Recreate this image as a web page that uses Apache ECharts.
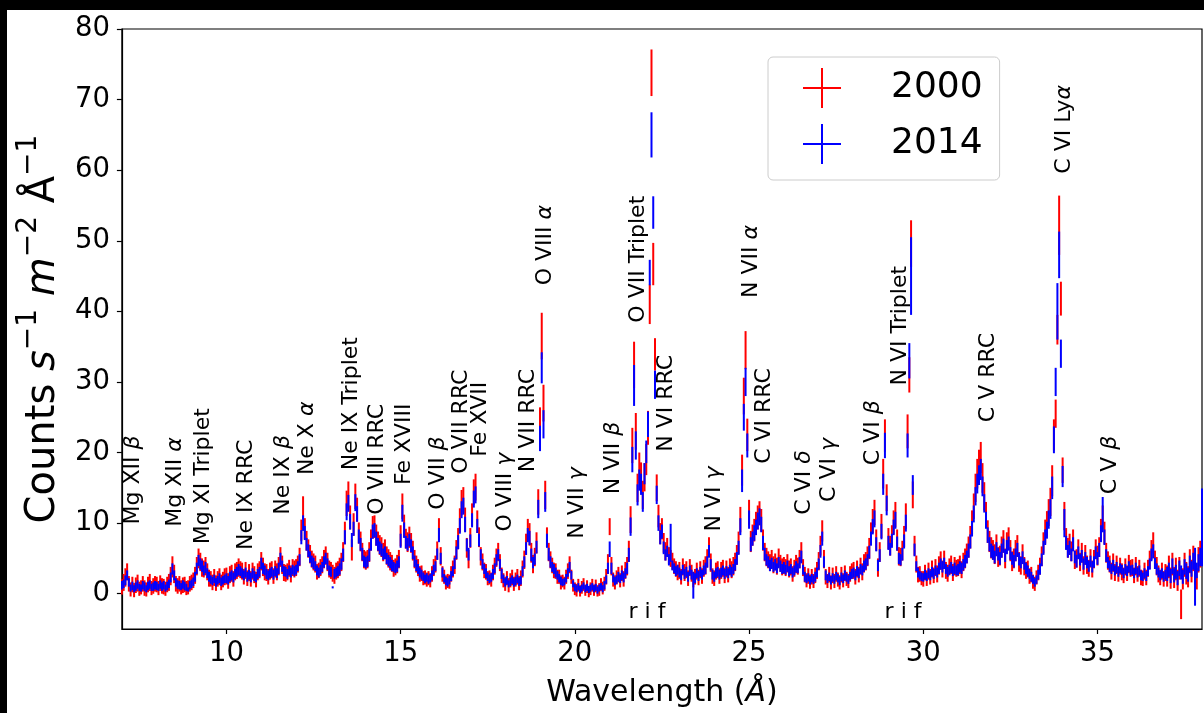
<!DOCTYPE html>
<html>
<head>
<meta charset="utf-8">
<script src="https://cdn.jsdelivr.net/npm/echarts@6/dist/echarts.min.js"></script>
<style>
  html, body { margin: 0; padding: 0; width: 1204px; height: 713px; background: #000; overflow: hidden; }
  #chart { position: absolute; left: 7px; top: 10px; width: 1197px; height: 703px; background: #fff; }
</style>
</head>
<body>
<div id="chart"></div>
<script>
// wavelength grid of the bins (Å)
const wlStart = 7;
const wlStep = 0.05;

// 2000 spectrum, one row per Å (7.00 ... 7.95, 8.00 ...)
const flux2000 = [
  1.0,1.6,2.3,3.1,1.4,0.6,1.3,0.5,1.2,1.5,0.7,0.9,1.4,0.8,0.6,1.3,1.6,0.8,1.1,1.4,
  1.3,0.8,1.5,1.1,1.0,0.7,1.3,1.6,2.5,3.8,2.8,1.4,1.1,1.4,0.9,1.2,1.3,0.8,0.9,1.4,
  1.6,1.9,2.6,3.9,5.0,4.5,3.7,3.5,3.9,3.1,2.2,2.1,1.6,2.3,1.5,2.1,2.4,1.6,2.0,2.4,
  2.5,1.8,2.7,2.9,2.1,3.1,3.3,3.7,3.4,3.2,2.4,3.3,2.2,3.0,2.1,3.2,2.7,2.0,3.1,3.4,
  4.6,3.8,3.1,3.0,2.4,3.2,3.4,2.5,3.5,3.1,3.9,5.2,4.1,3.0,2.9,3.1,3.6,2.8,3.7,3.5,
  3.7,4.2,5.2,9.0,12.2,9.2,7.5,6.4,5.6,4.9,4.5,4.2,3.1,3.3,3.7,4.1,4.9,5.4,4.5,3.5,
  3.3,2.9,2.6,3.2,3.4,3.8,4.5,5.9,8.6,12.8,14.0,10.8,6.2,9.8,13.8,11.9,8.6,7.4,5.9,4.9,
  4.7,4.9,5.9,7.6,9.4,9.5,8.3,7.4,6.9,6.6,5.9,6.3,5.4,5.0,4.6,4.3,3.6,3.8,4.2,4.9,
  8.2,12.4,9.6,7.8,7.3,8.0,7.2,6.1,4.9,4.2,3.7,2.8,2.9,2.2,2.3,2.0,2.2,1.9,2.8,3.7,
  4.2,6.1,9.1,5.3,2.8,2.4,1.6,1.8,1.7,2.8,3.5,4.1,6.2,7.8,10.4,12.9,13.3,10.5,6.5,4.9,
  7.9,11.2,14.4,15.1,10.2,8.0,5.3,4.5,3.3,3.1,2.2,2.3,2.0,3.0,3.9,5.1,5.9,4.4,2.6,1.9,
  1.4,2.2,1.2,1.9,2.3,1.4,2.0,2.4,1.5,2.2,3.5,4.8,7.0,9.0,8.4,5.8,4.2,5.2,7.2,13.0,
  24.0,36.5,27.0,14.0,8.0,5.9,4.8,4.0,3.3,3.2,2.4,2.4,1.6,1.8,1.5,2.4,3.2,4.1,2.4,1.2,
  0.7,0.5,1.2,0.4,0.9,1.3,0.5,1.0,0.3,0.7,1.2,0.5,1.1,0.4,0.6,1.3,0.8,1.4,2.4,4.2,
  9.5,3.9,2.0,1.6,2.3,2.7,1.9,2.9,2.1,3.3,3.9,6.0,10.5,21.0,32.4,23.0,15.0,17.8,16.5,14.0,
  16.5,19.0,23.5,41.0,73.8,46.7,33.9,15.0,11.0,8.5,9.2,7.2,6.0,6.6,5.4,5.0,4.6,3.9,3.5,3.0,
  3.3,2.4,3.8,3.0,3.4,2.2,3.7,2.9,2.0,2.4,3.2,2.3,3.4,2.5,3.6,4.0,5.0,6.6,4.4,2.5,
  2.2,3.2,3.4,2.5,3.3,3.6,2.6,3.5,2.7,3.8,3.4,3.9,4.5,5.5,7.2,10.5,17.5,28.0,34.5,22.5,
  11.5,7.4,8.3,9.0,10.0,10.8,11.4,10.4,7.6,5.9,5.2,4.8,4.4,4.9,4.1,4.5,3.9,5.1,4.3,3.8,
  4.0,3.7,4.3,3.5,3.8,2.8,3.6,4.2,3.9,4.9,5.9,3.7,2.7,1.9,2.5,1.7,2.4,1.8,2.6,3.3,
  4.6,6.8,8.9,4.9,2.4,1.8,2.7,1.6,2.6,1.8,2.8,2.0,1.6,2.7,1.9,2.9,2.1,1.8,2.8,3.2,
  3.3,2.4,3.5,2.7,3.9,3.1,4.3,4.6,5.3,6.4,8.5,10.3,11.5,7.6,3.7,5.9,9.6,17.0,22.4,13.6,
  7.8,6.8,8.2,10.1,11.2,7.6,5.3,5.2,6.1,8.1,11.0,23.0,31.0,49.6,14.0,6.8,4.2,2.7,2.8,2.2,
  2.1,3.0,2.2,3.2,2.4,3.5,2.6,3.7,2.8,4.0,4.7,3.5,4.8,3.3,2.9,3.8,4.1,3.0,3.9,3.6,
  3.7,4.1,3.4,4.5,5.0,5.7,6.6,8.0,10.1,12.4,15.0,17.0,18.2,19.3,16.4,13.8,11.2,8.8,7.4,6.5,
  6.2,5.6,6.9,5.2,5.4,6.6,7.4,5.0,7.2,7.8,6.1,4.6,5.0,6.1,6.8,4.5,4.0,5.6,3.9,3.3,
  3.5,2.5,2.7,1.7,1.4,2.3,3.0,3.9,5.3,7.2,8.8,9.9,11.5,13.0,16.0,22.5,25.5,37.4,52.2,41.8,
  17.5,11.0,7.8,6.5,7.0,6.0,7.6,4.8,5.0,6.3,4.5,5.8,4.0,5.5,4.1,3.6,5.0,3.5,4.9,6.3,
  5.4,6.6,9.0,10.8,8.6,5.8,4.7,4.2,3.2,4.4,3.0,4.1,2.8,3.9,3.1,2.6,3.8,2.9,4.2,3.6,
  3.7,2.6,3.9,2.8,3.6,2.3,2.2,3.2,2.3,3.6,4.8,6.2,7.2,4.8,3.9,2.8,2.3,3.2,2.1,3.0,
  2.5,3.8,2.2,4.2,2.3,3.5,1.9,3.6,-1.5,2.1,4.1,2.9,2.4,4.6,3.2,5.0,2.9,2.1,4.8,5.6,
  6.0
];
const err2000 = [
  1.1,1.2,1.3,1.2,1.1,1.0,1.1,1.0,1.1,1.2,1.0,1.0,1.1,1.1,1.0,1.1,1.2,1.0,1.1,1.1,
  1.1,1.0,1.1,1.1,1.1,1.0,1.1,1.2,1.3,1.5,1.3,1.1,1.1,1.1,1.0,1.1,1.1,1.0,1.0,1.1,
  1.1,1.1,1.2,1.3,1.4,1.3,1.3,1.2,1.3,1.2,1.2,1.1,1.1,1.2,1.1,1.1,1.2,1.1,1.1,1.2,
  1.2,1.1,1.2,1.2,1.1,1.2,1.2,1.3,1.2,1.2,1.1,1.2,1.1,1.2,1.1,1.2,1.2,1.1,1.2,1.2,
  1.3,1.3,1.2,1.2,1.1,1.2,1.2,1.1,1.2,1.2,1.3,1.4,1.3,1.2,1.2,1.2,1.2,1.2,1.2,1.2,
  1.2,1.2,1.3,1.5,1.6,1.5,1.4,1.3,1.3,1.2,1.2,1.2,1.1,1.1,1.2,1.2,1.3,1.3,1.3,1.2,
  1.2,1.2,1.2,1.2,1.2,1.3,1.3,1.4,1.6,1.8,1.9,1.7,1.5,1.6,1.8,1.7,1.5,1.4,1.3,1.3,
  1.3,1.3,1.4,1.5,1.6,1.6,1.5,1.4,1.4,1.4,1.3,1.4,1.3,1.3,1.3,1.2,1.2,1.2,1.3,1.3,
  1.5,1.8,1.6,1.4,1.4,1.5,1.4,1.4,1.3,1.2,1.2,1.1,1.1,1.0,1.0,1.0,1.0,1.0,1.1,1.2,
  1.2,1.3,1.6,1.3,1.1,1.0,1.0,1.0,1.0,1.1,1.2,1.3,1.4,1.5,1.7,1.8,1.8,1.7,1.4,1.3,
  1.4,1.6,1.8,1.9,1.6,1.4,1.3,1.2,1.1,1.1,1.0,1.0,1.0,1.1,1.2,1.3,1.3,1.2,1.1,1.0,
  1.0,1.0,1.0,1.0,1.1,1.0,1.0,1.1,1.0,1.1,1.2,1.3,1.5,1.6,1.6,1.4,1.3,1.3,1.5,1.8,
  2.4,3.3,2.6,2.0,1.4,1.3,1.2,1.1,1.1,1.1,1.0,1.0,1.0,0.9,0.9,1.0,1.1,1.2,1.0,0.9,
  0.9,0.9,0.9,0.8,0.9,0.9,0.8,0.9,0.8,0.9,0.9,0.8,0.9,0.8,0.9,0.9,0.9,1.0,1.1,1.4,
  1.2,1.3,1.0,1.0,1.0,1.1,1.0,1.1,1.1,1.2,1.3,1.5,1.9,2.5,3.3,2.6,2.0,2.2,2.1,2.0,
  2.0,2.2,2.4,2.8,3.3,3.0,2.3,1.9,1.6,1.5,1.5,1.4,1.3,1.3,1.2,1.2,1.2,1.1,1.1,1.1,
  1.2,1.1,1.2,1.2,1.2,1.1,1.2,1.2,1.1,1.1,1.2,1.1,1.2,1.1,1.2,1.3,1.3,1.4,1.3,1.1,
  1.1,1.2,1.2,1.1,1.2,1.2,1.1,1.2,1.1,1.2,1.2,1.3,1.3,1.4,1.6,1.8,2.2,2.6,2.7,2.3,
  1.8,1.5,1.5,1.6,1.6,1.7,1.7,1.6,1.5,1.3,1.3,1.2,1.2,1.3,1.2,1.2,1.2,1.3,1.2,1.2,
  1.2,1.2,1.3,1.2,1.2,1.1,1.2,1.3,1.2,1.3,1.4,1.2,1.1,1.0,1.1,1.0,1.1,1.0,1.1,1.2,
  1.3,1.4,1.5,1.3,1.1,1.0,1.1,1.0,1.1,1.0,1.1,1.0,1.0,1.1,1.0,1.1,1.0,1.0,1.1,1.1,
  1.2,1.1,1.2,1.1,1.2,1.2,1.3,1.3,1.4,1.5,1.6,1.7,1.8,1.5,1.3,1.4,1.7,2.1,2.3,1.9,
  1.5,1.4,1.5,1.7,1.8,1.5,1.3,1.3,1.4,1.5,1.8,2.4,2.5,3.3,1.9,1.4,1.2,1.1,1.1,1.0,
  1.1,1.1,1.1,1.2,1.1,1.2,1.1,1.2,1.2,1.3,1.3,1.2,1.3,1.2,1.2,1.2,1.3,1.2,1.3,1.2,
  1.2,1.3,1.2,1.3,1.4,1.4,1.5,1.6,1.7,1.8,2.0,2.1,2.2,2.2,2.1,2.0,1.8,1.6,1.5,1.5,
  1.4,1.4,1.5,1.4,1.4,1.5,1.6,1.4,1.5,1.6,1.5,1.4,1.4,1.5,1.5,1.4,1.3,1.4,1.3,1.2,
  1.2,1.1,1.1,1.0,1.0,1.0,1.1,1.2,1.4,1.5,1.7,1.8,1.9,2.0,2.2,2.2,2.0,2.1,4.2,2.4,
  1.8,2.0,1.5,1.4,1.5,1.4,1.5,1.3,1.3,1.4,1.3,1.4,1.3,1.4,1.3,1.2,1.3,1.2,1.3,1.4,
  1.4,1.4,1.6,1.7,1.6,1.4,1.3,1.2,1.2,1.3,1.2,1.3,1.1,1.2,1.2,1.1,1.2,1.1,1.3,1.2,
  1.2,1.1,1.3,1.1,1.2,1.1,1.1,1.2,1.1,1.2,1.3,1.4,1.5,1.3,1.3,1.2,1.1,1.2,1.1,1.2,
  1.5,1.6,1.5,1.6,1.5,1.6,1.5,1.6,2.1,1.5,1.7,1.6,1.5,1.7,1.6,1.8,1.6,1.5,1.8,1.9,
  2.0
];

// 2014 spectrum, same bins
const flux2014 = [
  1.2,1.4,1.9,2.6,1.6,0.8,1.1,0.7,1.0,1.3,0.9,0.8,1.2,1.0,0.7,1.1,1.3,0.9,1.0,1.2,
  1.1,0.9,1.3,1.0,1.2,0.8,1.1,1.4,2.3,3.5,2.6,1.6,1.3,1.2,1.0,1.3,1.1,0.9,0.6,1.2,
  1.4,1.7,2.4,3.6,4.7,4.2,3.9,3.3,3.7,2.9,2.4,2.0,1.8,2.1,1.6,1.9,2.2,1.7,1.9,2.1,
  2.2,1.9,2.4,2.6,2.3,2.8,3.1,3.4,3.2,2.9,2.6,3.0,2.4,2.7,2.3,2.9,2.5,2.2,2.8,3.1,
  4.3,3.6,3.3,2.8,2.6,2.9,3.1,2.7,3.2,2.9,3.6,4.9,3.9,3.2,3.1,2.8,3.3,3.0,3.4,3.2,
  3.4,3.9,4.8,8.0,10.0,8.6,7.0,6.1,5.2,4.6,4.3,3.9,3.3,3.0,3.4,3.8,4.5,5.0,4.2,3.3,
  3.1,0.9,2.8,3.0,3.2,3.5,4.2,5.5,8.0,11.6,12.8,10.2,7.6,9.2,12.9,11.3,8.1,7.0,5.6,4.6,
  4.4,4.6,5.5,7.0,8.8,9.0,7.8,7.0,6.5,6.2,5.6,5.8,5.0,4.7,4.4,4.0,3.8,3.6,3.9,4.5,
  7.5,11.4,9.0,7.3,7.0,7.6,6.8,5.8,4.6,4.0,3.5,3.0,2.7,2.4,2.1,2.3,2.0,2.2,2.6,3.4,
  3.9,5.6,8.3,5.0,3.0,2.2,1.8,1.6,1.9,2.5,3.2,4.3,5.8,7.3,9.6,11.9,12.4,9.8,6.9,5.6,
  7.5,10.4,13.4,14.0,9.6,7.6,5.5,4.2,3.5,2.9,2.4,2.1,2.3,2.8,3.6,4.8,5.5,4.2,2.8,2.1,
  1.6,1.9,1.4,1.7,2.0,1.6,1.8,2.1,1.7,1.9,3.2,4.5,6.4,8.3,7.9,5.5,4.4,4.9,6.6,12.0,
  22.0,32.0,24.0,13.0,7.5,5.6,4.5,3.8,3.5,3.0,2.6,2.2,1.8,1.6,1.7,2.2,3.0,3.8,2.6,1.4,
  0.9,0.7,1.0,0.6,0.8,1.1,0.7,0.9,0.6,0.8,1.0,0.7,0.9,0.5,0.8,1.0,0.7,1.2,2.0,3.6,
  6.3,3.6,2.2,1.8,2.0,2.4,2.1,2.6,2.3,2.9,3.6,5.5,9.5,19.0,29.5,21.0,14.0,16.1,15.5,13.0,
  17.0,20.1,24.0,45.5,65.0,54.0,29.6,14.0,10.0,8.0,8.8,6.5,5.5,6.0,4.8,7.2,4.0,3.6,3.2,3.4,
  3.0,2.6,3.4,2.8,3.1,2.4,3.3,2.7,1.2,2.2,2.9,2.5,3.1,2.7,3.3,3.6,4.5,6.0,4.1,2.7,
  2.4,2.9,3.1,2.7,3.0,3.3,2.8,3.2,2.9,3.4,3.1,3.5,4.1,5.0,6.5,9.5,16.0,25.0,30.0,21.0,
  10.5,7.0,7.8,8.6,9.4,10.3,10.9,9.8,7.2,5.6,4.8,4.5,4.0,4.3,3.8,4.1,3.6,4.4,3.9,3.5,
  3.7,3.4,3.9,3.2,3.5,3.0,3.3,3.8,3.6,4.4,5.2,3.4,2.4,2.1,2.3,1.9,2.2,2.0,2.4,3.0,
  4.2,6.0,7.8,4.5,2.6,2.1,2.4,1.9,2.3,2.0,2.5,2.2,1.8,2.4,2.1,2.6,2.3,2.0,2.5,2.8,
  3.0,2.6,3.2,2.9,3.5,3.3,3.9,4.2,4.8,5.9,7.8,9.5,10.6,7.0,4.0,5.4,8.8,15.5,21.0,12.5,
  7.2,6.3,7.5,9.4,10.4,7.1,5.0,4.8,5.6,7.4,10.0,21.0,33.0,45.0,15.4,6.2,3.9,3.0,2.6,2.4,
  2.3,2.7,2.4,2.9,2.6,3.1,2.8,3.3,3.0,3.6,4.2,3.8,4.3,3.5,3.1,3.4,3.7,3.2,3.6,3.3,
  3.4,3.8,3.6,4.1,4.6,5.2,6.1,7.4,9.2,11.3,13.8,15.6,16.8,17.6,15.2,12.8,10.4,8.3,7.0,6.1,
  5.8,5.2,6.3,5.6,5.0,6.1,6.8,5.4,6.6,7.1,5.7,5.0,4.6,5.5,6.2,4.9,4.4,5.1,4.2,3.6,
  3.2,2.8,2.4,2.0,1.6,2.0,2.7,3.5,4.8,6.5,8.0,9.0,10.5,12.0,15.0,21.8,30.0,40.0,48.0,34.0,
  16.6,10.0,7.2,6.0,6.5,5.5,7.0,5.2,4.6,5.8,4.8,5.3,4.2,5.0,4.4,3.9,4.6,3.8,4.5,5.8,
  5.0,6.2,8.5,11.2,8.0,5.4,4.4,3.9,3.5,4.0,3.3,3.7,3.1,3.6,3.4,2.9,3.5,3.2,3.8,3.3,
  3.4,2.9,3.6,3.0,3.3,2.6,2.4,2.9,2.5,3.2,4.2,5.5,6.0,4.3,3.5,3.0,2.6,2.9,2.4,2.7,
  2.8,3.4,2.5,3.9,2.6,3.1,2.2,3.6,3.0,2.4,3.8,3.2,2.7,4.2,3.5,4.6,2.4,3.3,4.4,5.2,
  9.4
];
const err2014 = [
  0.6,0.6,0.7,0.7,0.6,0.5,0.6,0.5,0.6,0.6,0.5,0.5,0.6,0.6,0.5,0.6,0.6,0.5,0.6,0.6,
  0.6,0.5,0.6,0.6,0.6,0.5,0.6,0.6,0.7,0.8,0.7,0.6,0.6,0.6,0.5,0.6,0.6,0.5,0.3,0.6,
  0.6,0.6,0.7,0.8,0.8,0.8,0.8,0.7,0.8,0.7,0.7,0.6,0.6,0.6,0.6,0.6,0.7,0.6,0.6,0.6,
  0.7,0.6,0.7,0.7,0.7,0.7,0.7,0.8,0.7,0.7,0.7,0.7,0.7,0.7,0.7,0.7,0.7,0.6,0.7,0.7,
  0.8,0.8,0.7,0.7,0.7,0.7,0.7,0.7,0.7,0.7,0.8,0.9,0.8,0.7,0.7,0.7,0.7,0.7,0.7,0.7,
  0.7,0.7,0.8,1.0,1.1,1.0,0.9,0.9,0.8,0.8,0.8,0.7,0.7,0.7,0.7,0.7,0.8,0.8,0.8,0.7,
  0.7,0.15,0.7,0.7,0.7,0.8,0.8,0.9,1.0,1.2,1.2,1.1,1.0,1.0,1.2,1.1,1.0,0.9,0.9,0.8,
  0.8,0.8,0.9,0.9,1.0,1.0,1.0,0.9,0.9,0.9,0.8,0.9,0.8,0.8,0.8,0.8,0.7,0.7,0.8,0.8,
  1.0,1.2,1.1,0.9,0.9,0.9,0.9,0.9,0.8,0.8,0.7,0.7,0.7,0.6,0.6,0.6,0.6,0.6,0.7,0.7,
  0.7,0.8,1.0,0.8,0.7,0.6,0.6,0.6,0.6,0.7,0.7,0.8,0.9,1.0,1.1,1.2,1.2,1.1,0.9,0.9,
  0.9,1.0,1.2,1.2,1.0,0.9,0.8,0.7,0.7,0.7,0.6,0.6,0.6,0.7,0.7,0.8,0.8,0.7,0.7,0.6,
  0.6,0.6,0.5,0.6,0.6,0.6,0.6,0.6,0.6,0.6,0.7,0.8,0.9,1.0,1.0,0.9,0.8,0.8,0.9,1.3,
  1.8,2.2,2.0,1.4,1.0,0.9,0.8,0.7,0.7,0.7,0.6,0.6,0.6,0.5,0.5,0.6,0.6,0.7,0.6,0.5,
  0.5,0.5,0.5,0.5,0.5,0.5,0.5,0.5,0.5,0.5,0.5,0.5,0.5,0.5,0.5,0.5,0.5,0.6,0.6,0.8,
  1.1,0.8,0.6,0.6,0.6,0.7,0.6,0.7,0.7,0.7,0.8,1.0,1.3,1.8,2.9,2.0,1.5,1.5,1.5,1.4,
  1.5,1.6,1.8,1.8,3.2,2.3,2.0,1.3,1.1,1.0,1.0,0.9,0.8,0.8,0.8,2.7,0.7,0.7,0.7,0.7,
  0.7,0.7,0.7,0.7,0.7,0.7,0.7,0.7,1.9,0.7,0.7,0.7,0.7,0.7,0.7,0.8,0.8,0.9,0.8,0.7,
  0.7,0.7,0.7,0.7,0.7,0.7,0.7,0.7,0.7,0.7,0.7,0.7,0.8,0.9,1.0,1.2,1.6,1.9,2.0,1.7,
  1.3,1.0,1.0,1.1,1.1,1.2,1.2,1.1,1.0,0.9,0.8,0.8,0.8,0.8,0.7,0.8,0.7,0.8,0.8,0.7,
  0.8,0.7,0.8,0.7,0.7,0.7,0.7,0.8,0.7,0.8,0.9,0.7,0.7,0.6,0.6,0.6,0.6,0.6,0.7,0.7,
  0.8,0.9,1.0,0.8,0.7,0.6,0.6,0.6,0.6,0.6,0.6,0.6,0.6,0.6,0.6,0.7,0.6,0.6,0.6,0.7,
  0.7,0.7,0.7,0.7,0.7,0.7,0.8,0.8,0.8,0.9,1.0,1.1,1.2,1.0,0.8,0.9,1.1,1.5,1.8,1.4,
  1.0,0.9,1.0,1.1,1.2,1.0,0.8,0.8,0.9,1.0,1.2,1.7,2.5,5.5,1.4,0.9,0.7,0.7,0.6,0.6,
  0.6,0.7,0.6,0.7,0.7,0.7,0.7,0.7,0.7,0.8,0.8,0.8,0.8,0.7,0.7,0.7,0.8,0.7,0.8,0.7,
  0.8,0.8,0.8,0.8,0.9,0.9,1.0,1.0,1.1,1.2,1.3,1.4,1.4,1.5,1.4,1.3,1.2,1.1,1.0,1.0,
  1.0,0.9,1.0,0.9,0.9,1.0,1.0,0.9,1.0,1.0,0.9,0.9,0.9,0.9,1.0,0.9,0.8,0.9,0.8,0.8,
  0.8,0.7,0.7,0.6,0.6,0.6,0.7,0.8,0.9,1.0,1.1,1.2,1.3,1.4,1.6,1.9,2.0,4.0,3.3,2.0,
  1.5,2.0,1.0,0.9,1.0,0.9,1.0,0.9,0.9,0.9,0.8,0.9,0.8,0.9,0.8,0.8,0.8,0.8,0.8,0.9,
  0.9,1.0,1.2,2.5,1.1,0.9,0.8,0.8,0.7,0.8,0.7,0.8,0.7,0.7,0.7,0.7,0.7,0.7,0.8,0.7,
  0.7,0.7,0.8,0.7,0.7,0.7,0.6,0.7,0.7,0.7,0.8,0.9,1.0,0.8,0.8,0.7,0.7,0.7,0.7,0.7,
  1.0,1.0,1.0,1.1,1.0,1.0,1.0,1.1,1.0,1.0,1.1,1.1,1.0,1.2,1.1,1.2,4.1,1.1,1.2,1.3,
  5.5
];

// line identifications: wavelength and height of the label foot
const lineNames = ['Mg XII β', 'Mg XII α', 'Mg XI Triplet', 'Ne IX RRC', 'Ne IX β', 'Ne X α',
  'Ne IX Triplet', 'O VIII RRC', 'Fe XVIII', 'O VII β', 'O VII RRC', 'Fe XVII', 'O VIII γ',
  'N VII RRC', 'O VIII α', 'N VII γ', 'N VII β', 'O VII Triplet', 'N VI RRC', 'N VI γ',
  'N VII α', 'C VI RRC', 'C VI δ', 'C VI γ', 'C VI β', 'N VI Triplet', 'C V RRC', 'C VI Lyα', 'C V β'];
const lineX = [7.34, 8.54, 9.34, 10.57, 11.64, 12.31, 13.57, 14.34, 15.11, 16.08, 16.73, 17.29, 17.99,
  18.65, 19.15, 20.07, 21.09, 21.81, 22.63, 24.01, 25.05, 25.44, 26.58, 27.30, 28.57, 29.34, 31.86, 34.06, 35.38];
const lineY = [9.8, 9.5, 7.0, 6.2, 11.2, 16.8, 17.5, 11.2, 15.4, 11.9, 17.0, 19.4, 8.8,
  17.2, 43.7, 7.8, 14.1, 38.4, 20.1, 8.8, 41.9, 18.4, 11.2, 13.0, 18.2, 29.5, 24.3, 59.5, 14.1];

// r i f marks under the two triplets
const tripletX = [22.07, 29.42];
const tripletY = [-2.7, -2.7];

const xTicks = [10, 15, 20, 25, 30, 35];
const yTicks = [0, 10, 20, 30, 40, 50, 60, 70, 80];

const font = 'DejaVu Sans';
const crossIcon = 'path://M0,19L38,19L38,21L0,21Z M18,0L20,0L20,40L18,40Z';

function toBars(flux, err) {
  return flux.map((v, i) => [+(wlStart + i * wlStep).toFixed(2), v, err[i]]);
}

function renderErrorBar(params, api) {
  const x = api.value(0), y = api.value(1), e = api.value(2);
  const lo = api.coord([x, y - e]);
  const hi = api.coord([x, y + e]);
  return {
    type: 'line',
    shape: { x1: lo[0], y1: lo[1], x2: hi[0], y2: hi[1] },
    style: { stroke: api.visual('color'), lineWidth: 2, lineCap: 'butt' }
  };
}

function renderLineName(params, api) {
  const p = api.coord([api.value(0), api.value(1)]);
  const name = lineNames[params.dataIndex];
  const m = name.match(/^(.*?)([α-ω])$/);
  const text = m ? '{t|' + m[1] + '}{g|' + m[2] + '}' : '{t|' + name + '}';
  return {
    type: 'text',
    x: p[0], y: p[1],
    rotation: Math.PI / 2,
    silent: true,
    style: {
      text: text,
      align: 'left',
      verticalAlign: 'middle',
      rich: {
        t: { fontSize: 22, fontFamily: font, fill: '#000' },
        g: { fontSize: 22, fontFamily: font, fontStyle: 'italic', fill: '#000' }
      }
    }
  };
}

function renderTriplet(params, api) {
  const p = api.coord([api.value(0), api.value(1)]);
  return {
    type: 'text', x: p[0], y: p[1], silent: true,
    style: { text: 'r i f', fontSize: 22, fontFamily: font, fill: '#000', align: 'center', verticalAlign: 'middle' }
  };
}

const chart = echarts.init(document.getElementById('chart'));

const option = {
  animation: false,
  backgroundColor: '#fff',
  grid: { left: 109, top: 19, width: 1086, height: 604, show: true, borderColor: '#000', borderWidth: 1.2 },
  legend: {
    data: [{ name: '2000', icon: crossIcon }, { name: '2014', icon: crossIcon }],
    orient: 'vertical',
    left: 761, top: 47,
    itemWidth: 38, itemHeight: 40, itemGap: 16,
    padding: [11, 17, 16, 35],
    borderColor: '#ccc', borderWidth: 1, borderRadius: 5,
    backgroundColor: 'rgba(255,255,255,0.8)',
    selectedMode: false,
    textStyle: { fontSize: 36, fontFamily: font, color: '#000', padding: [0, 0, 0, 45] }
  },
  xAxis: {
    type: 'value', min: 7, max: 38,
    name: 'Wavelength ({i|Å})',
    nameLocation: 'middle', nameGap: 49,
    nameTextStyle: { fontSize: 30, fontFamily: font, color: '#000',
      rich: { i: { fontSize: 30, fontFamily: font, fontStyle: 'italic', color: '#000' } } },
    axisLine: { show: true, onZero: false, lineStyle: { color: '#000', width: 1.2 } },
    axisTick: { show: true, length: 5, customValues: xTicks, lineStyle: { color: '#000', width: 1.2 } },
    axisLabel: { customValues: xTicks, fontSize: 27.5, fontFamily: font, color: '#000', margin: 11 },
    splitLine: { show: false }
  },
  yAxis: {
    type: 'value', min: -5, max: 80,
    name: '{n|Counts }{i|s}{p|−1}{n| }{i|m}{p|−2}{n| Å}{p|−1}',
    nameLocation: 'middle', nameRotate: 90, nameGap: 46,
    nameTextStyle: {
      rich: {
        n: { fontSize: 40, lineHeight: 58, fontFamily: font, color: '#000' },
        i: { fontSize: 40, lineHeight: 58, fontFamily: font, fontStyle: 'italic', color: '#000' },
        p: { fontSize: 28, lineHeight: 28, fontFamily: font, color: '#000', verticalAlign: 'top' }
      }
    },
    axisLine: { show: true, onZero: false, lineStyle: { color: '#000', width: 1.2 } },
    axisTick: { show: true, length: 5, customValues: yTicks, lineStyle: { color: '#000', width: 1.2 } },
    axisLabel: { customValues: yTicks, fontSize: 27.5, fontFamily: font, color: '#000', margin: 12 },
    splitLine: { show: false }
  },
  series: [
    {
      name: '2000', type: 'custom', renderItem: renderErrorBar,
      data: toBars(flux2000, err2000), encode: { x: 0, y: 1 },
      itemStyle: { color: '#ff0000' }, clip: true, progressive: 0, z: 2
    },
    {
      name: '2014', type: 'custom', renderItem: renderErrorBar,
      data: toBars(flux2014, err2014), encode: { x: 0, y: 1 },
      itemStyle: { color: '#0000ff' }, clip: true, progressive: 0, z: 3
    },
    {
      name: 'lines', type: 'custom', renderItem: renderLineName,
      data: lineX.map((x, i) => [x, lineY[i]]), encode: { x: 0, y: 1 },
      silent: true, z: 4
    },
    {
      name: 'triplets', type: 'custom', renderItem: renderTriplet,
      data: tripletX.map((x, i) => [x, tripletY[i]]), encode: { x: 0, y: 1 },
      silent: true, z: 4
    }
  ]
};

option && chart.setOption(option);
</script>
</body>
</html>
